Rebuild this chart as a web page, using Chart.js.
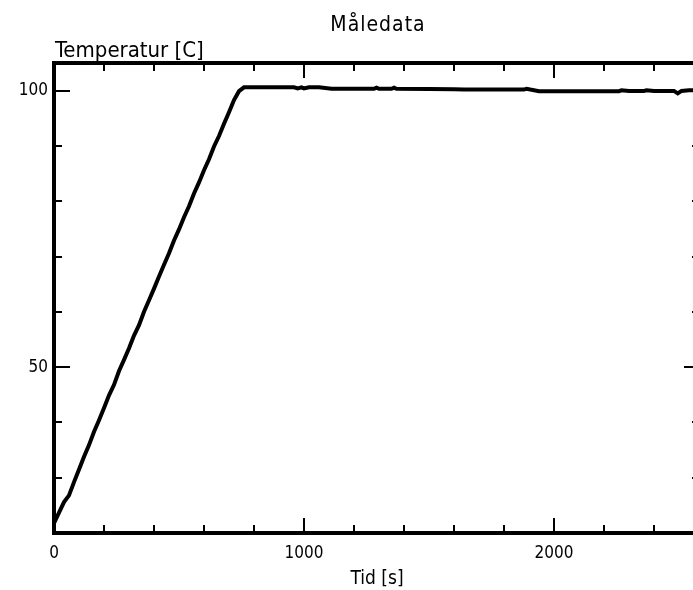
<!DOCTYPE html>
<html>
<head>
<meta charset="utf-8">
<script src="https://cdn.jsdelivr.net/npm/chart.js@4.4.1/dist/chart.umd.min.js"></script>
<style>
  html, body { margin: 0; padding: 0; background: #fff; overflow: hidden; }
  #wrap { width: 710px; height: 590px; }
</style>
</head>
<body>
<div id="wrap"><canvas id="chart" width="710" height="590"></canvas></div>
<script>
const FONT = "'DejaVu Sans Condensed', 'DejaVu Sans', sans-serif";

const TITLE = "Måledata";
const Y_TITLE = "Temperatur [C]";
const X_TITLE = "Tid [s]";

// time [s]
const TIME = [
  0, 20, 40, 60, 80, 100, 120, 140, 160, 180, 200, 220, 240, 260, 280, 300,
  320, 340, 360, 380, 400, 420, 440, 460, 480, 500, 520, 540, 560, 580, 600,
  620, 640, 660, 680, 700, 720, 740, 760, 800, 880, 960, 975, 990, 1000, 1020,
  1035, 1060, 1110, 1200, 1280, 1290, 1300, 1350, 1360, 1370, 1500, 1600, 1640,
  1700, 1800, 1880, 1890, 1905, 1940, 2000, 2100, 2200, 2260, 2270, 2300, 2360,
  2370, 2400, 2480, 2495, 2510, 2540, 2590
];
// temperatur [C]
const TEMP = [
  21.8, 23.7, 25.6, 26.8, 29.2, 31.5, 33.8, 35.9, 38.3, 40.4, 42.6, 44.9, 46.8, 49.3, 51.3, 53.4,
  55.7, 57.6, 60.0, 62.1, 64.2, 66.4, 68.5, 70.6, 72.9, 74.9, 77.1, 79.1, 81.4, 83.4, 85.6,
  87.6, 89.9, 91.8, 94.0, 96.1, 98.3, 99.9, 100.6, 100.6, 100.6, 100.6, 100.4, 100.6, 100.4, 100.6,
  100.6, 100.6, 100.35, 100.35, 100.35, 100.55, 100.35, 100.35, 100.55, 100.35, 100.3, 100.25, 100.2,
  100.2, 100.2, 100.2, 100.35, 100.2, 99.9, 99.9, 99.9, 99.9, 99.9, 100.05, 99.95, 99.95,
  100.05, 99.95, 99.95, 99.5, 99.95, 100.05, 100.1
];

const X_MIN = 0;
const X_MAX = 2584;
const Y_MIN = 20;
const Y_MAX = 105;

const X_LABEL_TICKS = [0, 1000, 2000];
const Y_LABEL_TICKS = [50, 100];
const X_MINOR_STEP = 200;
const Y_MINOR_STEP = 10;

// frame + inward ticks on all four sides, plus the title texts
const framePlugin = {
  id: "frame",
  afterDraw(chart) {
    const { ctx, chartArea: a, scales: { x, y } } = chart;
    ctx.save();
    ctx.strokeStyle = "#000";
    ctx.fillStyle = "#000";

    ctx.lineWidth = 2;
    for (let v = X_MIN; v <= X_MAX; v += X_MINOR_STEP) {
      const px = Math.round(x.getPixelForValue(v));
      const len = v % 1000 === 0 ? 15 : 8;
      ctx.beginPath();
      ctx.moveTo(px, a.bottom); ctx.lineTo(px, a.bottom - len);
      ctx.moveTo(px, a.top); ctx.lineTo(px, a.top + len);
      ctx.stroke();
    }
    for (let v = 30; v <= Y_MAX; v += Y_MINOR_STEP) {
      const py = Math.round(y.getPixelForValue(v));
      const len = v % 50 === 0 ? 16 : 8;
      ctx.beginPath();
      ctx.moveTo(a.left, py); ctx.lineTo(a.left + len, py);
      ctx.moveTo(a.right, py); ctx.lineTo(a.right - len, py);
      ctx.stroke();
    }

    ctx.lineWidth = 4;
    ctx.strokeRect(a.left, a.top, a.right - a.left, a.bottom - a.top);

    ctx.textBaseline = "alphabetic";
    ctx.font = `22px ${FONT}`;
    ctx.textAlign = "left";
    ctx.fillText(Y_TITLE, a.left + 1, a.top - 6);
    ctx.textAlign = "center";
    ctx.font = `21px ${FONT}`;
    ctx.letterSpacing = "1px";
    ctx.fillText(TITLE, 378, 31);
    ctx.restore();
  }
};

new Chart(document.getElementById("chart"), {
  type: "line",
  data: {
    datasets: [{
      data: TIME.map((t, i) => ({ x: t, y: TEMP[i] })),
      borderColor: "#000",
      borderWidth: 4,
      pointRadius: 0,
      tension: 0,
      fill: false
    }]
  },
  options: {
    responsive: false,
    animation: false,
    layout: { padding: { top: 63, right: 10, left: 0, bottom: 0 } },
    plugins: {
      legend: { display: false },
      tooltip: { enabled: false },
      title: { display: false }
    },
    scales: {
      x: {
        type: "linear",
        min: X_MIN,
        max: X_MAX,
        afterBuildTicks: (s) => { s.ticks = X_LABEL_TICKS.map(v => ({ value: v })); },
        afterFit: (s) => { s.height = 57; },
        ticks: { color: "#000", font: { family: FONT, size: 17 }, padding: 10, maxRotation: 0, callback: (v) => String(v) },
        grid: { display: false, drawTicks: false },
        border: { display: false },
        title: { display: true, text: X_TITLE, color: "#000", font: { family: FONT, size: 19 }, padding: { top: 0, bottom: 0 } }
      },
      y: {
        type: "linear",
        min: Y_MIN,
        max: Y_MAX,
        afterBuildTicks: (s) => { s.ticks = Y_LABEL_TICKS.map(v => ({ value: v })); },
        afterFit: (s) => { s.width = 54; },
        ticks: { color: "#000", font: { family: FONT, size: 17 }, padding: 6, callback: (v) => String(v) },
        grid: { display: false, drawTicks: false },
        border: { display: false }
      }
    }
  },
  plugins: [framePlugin]
});
</script>
</body>
</html>
